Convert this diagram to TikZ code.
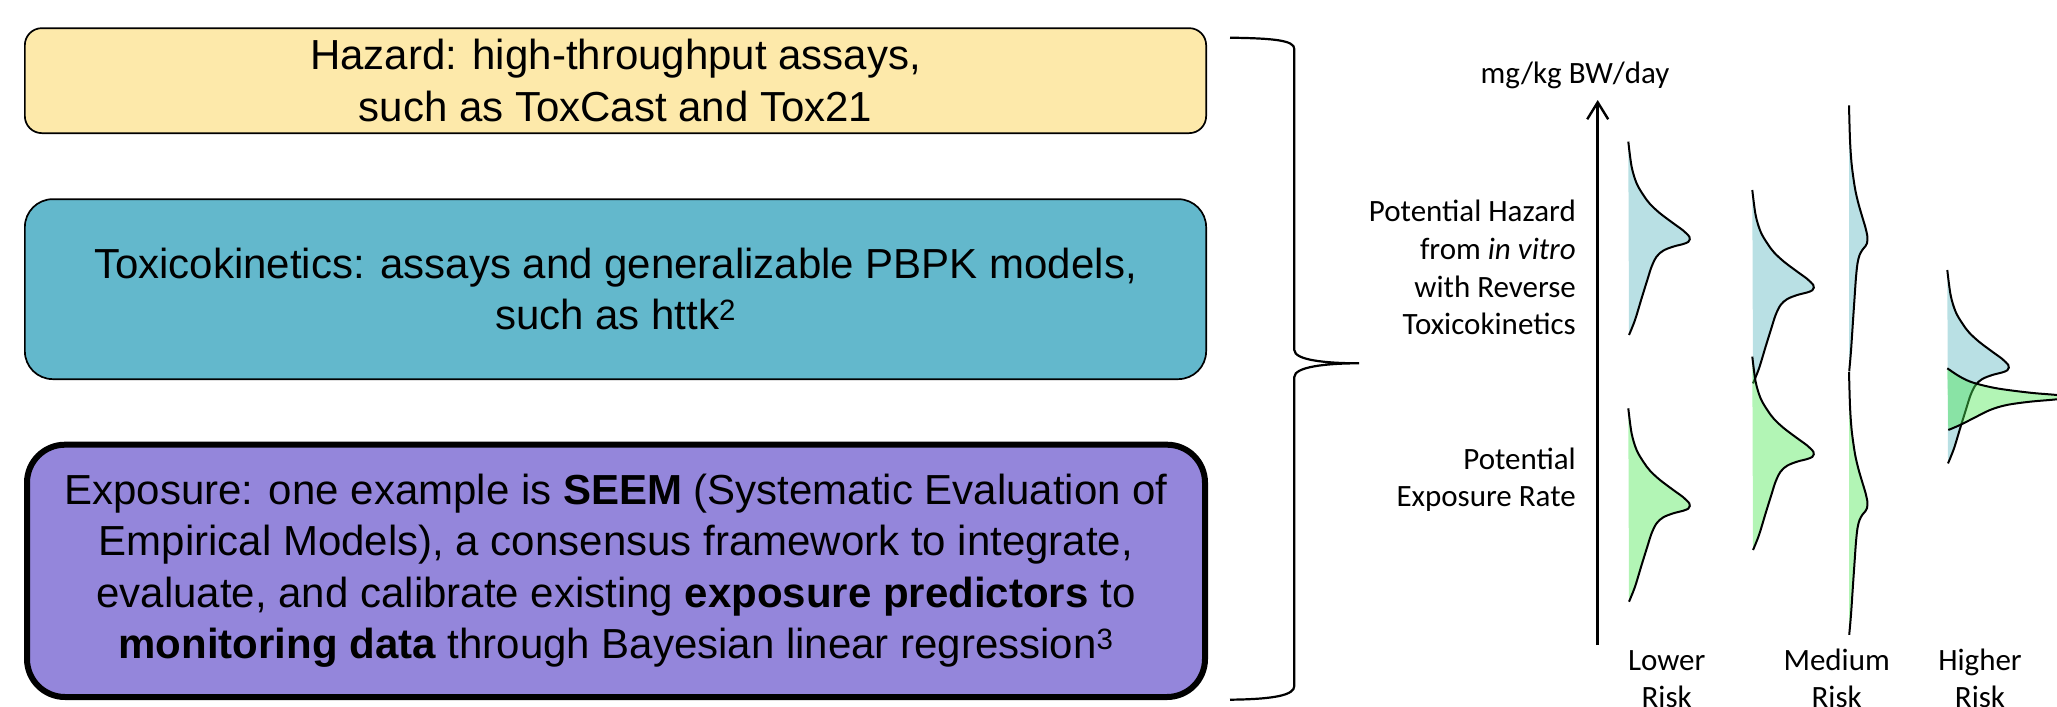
\documentclass[tikz,border=0pt]{standalone}
\usepackage{fontspec}
\setmainfont{Liberation Sans}
\newfontfamily\calib{Carlito}
\usetikzlibrary{arrows.meta}
\definecolor{hazY}{HTML}{FDE9AA}
\definecolor{tkT}{HTML}{63B8CC}
\definecolor{expP}{HTML}{9486DB}
\definecolor{hazB}{HTML}{B9E0E4}
\definecolor{expG}{HTML}{4CE854}
\tikzset{
  box/.style={rectangle, draw=black, align=center, inner sep=0pt, text=black,
    font=\fontsize{42}{51.5}\selectfont},
  rlab/.style={inner sep=0pt, font=\calib\fontsize{31}{37.7}\selectfont},
  curve/.style={draw=black, line width=2pt},
  hazfill/.style={fill=hazB},
  expfill/.style={fill=expG, fill opacity=0.43},
  pics/dist/.style={code={
    \fill[#1] plot[smooth,tension=0.55] coordinates {(0,-96.7) (3.3,-71.7) (8.3,-55) (15,-43.3) (21.7,-34.3) (31.7,-25) (45,-15) (55,-7.7) (61,-1.7) (61.5,1) (60,3.6) (55,5.7) (45,8.3) (35,12.3) (28.3,18.3) (23.3,28.3) (19,41.7) (13.3,60) (6.7,81.7) (0.7,96.7)} -- cycle;
    \draw[curve] plot[smooth,tension=0.55] coordinates {(0,-96.7) (3.3,-71.7) (8.3,-55) (15,-43.3) (21.7,-34.3) (31.7,-25) (45,-15) (55,-7.7) (61,-1.7) (61.5,1) (60,3.6) (55,5.7) (45,8.3) (35,12.3) (28.3,18.3) (23.3,28.3) (19,41.7) (13.3,60) (6.7,81.7) (0.7,96.7)};
  }}
}
\begin{document}
\begin{tikzpicture}[x=1pt,y=-1pt]
\useasboundingbox (0,0) rectangle (2057,707);
\clip (0,0) rectangle (2057,707);

% left boxes
\node[box, fill=hazY, line width=1.7pt, rounded corners=17pt,
      minimum width=1181.3pt, minimum height=105pt] (hazard) at (615.5,80.65)
  {Hazard: high-throughput assays,\\such as ToxCast and Tox21};
\node[box, fill=tkT, line width=1.7pt, rounded corners=28pt,
      minimum width=1181.3pt, minimum height=180pt] (tk) at (615.5,289.15)
  {Toxicokinetics: assays and generalizable PBPK models,\\such as httk\textsuperscript{2}};
\node[box, fill=expP, line width=6pt, rounded corners=38pt,
      minimum width=1178pt, minimum height=252.3pt] (expo) at (616,570.85)
  {Exposure: one example is \textbf{SEEM} (Systematic Evaluation of\\
   Empirical Models), a consensus framework to integrate,\\
   evaluate, and calibrate existing \textbf{exposure predictors} to\\
   \textbf{monitoring data} through Bayesian linear regression\textsuperscript{3}};

% brace
\coordinate (btop) at (1230,37.7);
\coordinate (btip) at (1359,363.3);
\coordinate (bbot) at (1230,699.7);
\draw[line width=2.2pt] (btop) .. controls (1275,38.3) and (1294.3,40.5) .. (1294.3,49)
  -- (1294.3,350) .. controls (1294.3,360) and (1325,363.3) .. (btip)
  .. controls (1325,363.3) and (1294.3,367) .. (1294.3,377)
  -- (1294.3,686) .. controls (1294.3,695) and (1275,699.2) .. (bbot);

% axis
\coordinate (axb) at (1597.7,645);
\coordinate (axt) at (1597.7,100);
\draw[line width=2.6pt, -{Straight Barb[length=17pt,width=21pt,line width=2.4pt]}] (axb) -- (axt);
\node[rlab, anchor=base] (unit) at (1575,83) {mg/kg BW/day};

% side labels (base anchor = baseline of last line)
\node[rlab, anchor=base east, align=right] (hazlab) at (1576,334.8)
  {Potential Hazard\\from \textit{in vitro}\\with Reverse\\Toxicokinetics};
\node[rlab, anchor=base east, align=right] (explab) at (1576,506.7)
  {Potential\\Exposure Rate};

% bottom labels
\node[rlab, anchor=base, align=center] (lower) at (1666.7,707.7) {Lower\\Risk};
\node[rlab, anchor=base, align=center] (medium) at (1836.7,707.7) {Medium\\Risk};
\node[rlab, anchor=base, align=center] (higher) at (1980,707.7) {Higher\\Risk};

% distributions
\pic (lh) at (1628.3,238.3) {dist=hazfill};
\pic (le) at (1628.3,505) {dist=expfill};
\pic (mh) at (1752.3,286.7) {dist=hazfill};
\pic (me) at (1752.3,453.3) {dist=expfill};
\pic[xscale=0.3,yscale=1.375] (m2h) at (1849,238.3) {dist=hazfill};
\pic[xscale=0.3,yscale=1.36] (m2e) at (1849,503.3) {dist=expfill};
\pic (hh) at (1947.3,366.7) {dist=hazfill};
\fill[expfill] plot[smooth,tension=0.55] coordinates {(1947.3,368.3) (1960,376.7) (1973.3,382.7) (1996.7,388.3) (2030,392.7) (2056.7,395) (2068,397) (2056.7,399.3) (2030,401.7) (2006.7,405) (1990,410) (1973.3,418.3) (1960,425) (1948.3,430)} -- cycle;
\draw[curve] plot[smooth,tension=0.55] coordinates {(1947.3,368.3) (1960,376.7) (1973.3,382.7) (1996.7,388.3) (2030,392.7) (2056.7,395) (2068,397) (2056.7,399.3) (2030,401.7) (2006.7,405) (1990,410) (1973.3,418.3) (1960,425) (1948.3,430)};
\end{tikzpicture}
\end{document}
